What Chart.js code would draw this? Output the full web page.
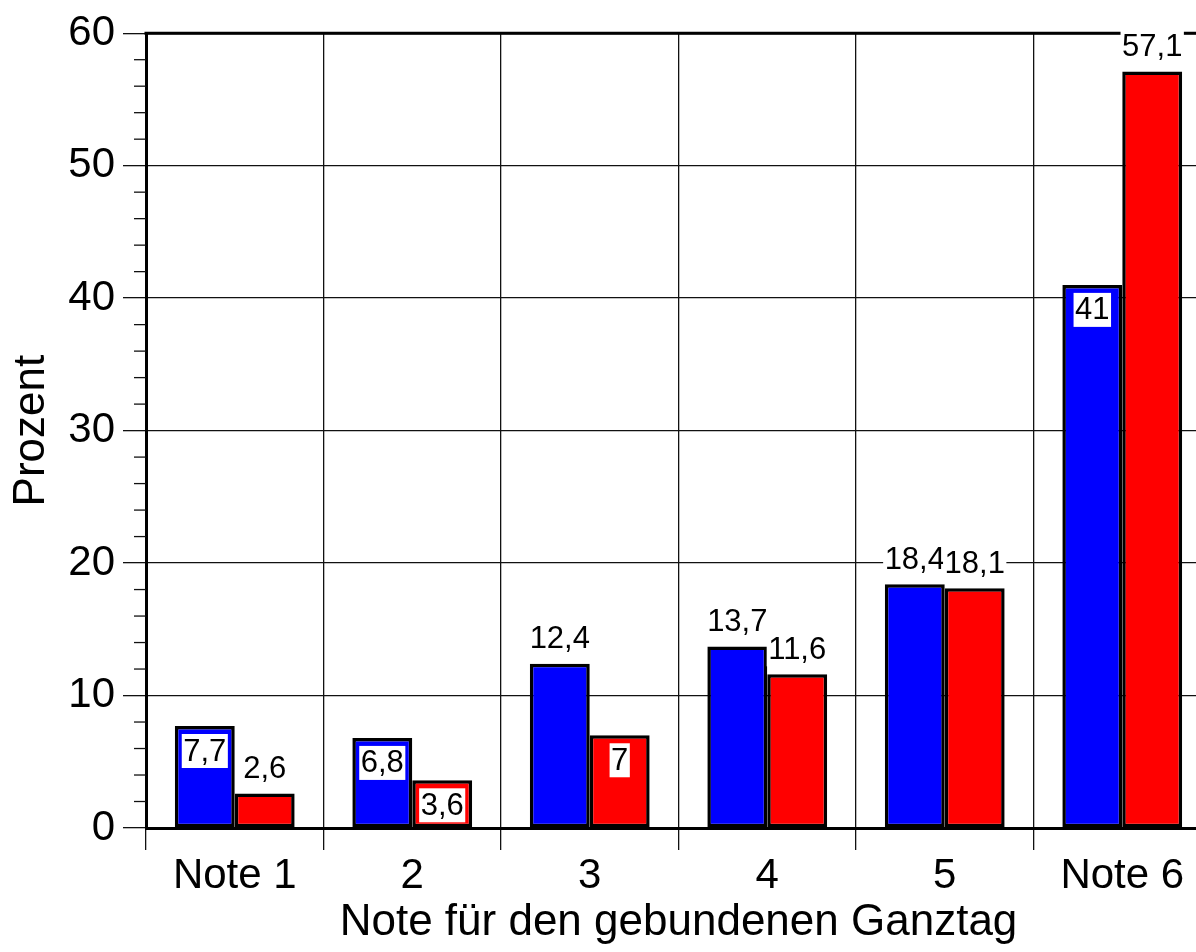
<!DOCTYPE html>
<html><head><meta charset="utf-8">
<script src="https://cdn.jsdelivr.net/npm/chart.js@4"></script>
<style>html,body{margin:0;padding:0;overflow:hidden;background:#fff}#wrap{width:1214px;height:952px;position:relative}</style>
</head><body><div id="wrap"><canvas id="c"></canvas></div>
<script>
const categories = ['Note 1', '2', '3', '4', '5', 'Note 6'];
const blueValues = [7.7, 6.8, 12.4, 13.7, 18.4, 41];
const redValues = [2.6, 3.6, 7, 11.6, 18.1, 57.1];
const yTickValues = [0, 10, 20, 30, 40, 50, 60];
const blueLabelAnchor = ['in', 'in', 'out', 'out', 'out', 'in'];
const redLabelAnchor = ['out', 'in', 'in', 'out', 'out', 'out'];

const FONT = '"Liberation Sans", Arial, Helvetica, sans-serif';

const decorPlugin = {
  id: 'decor',
  afterDatasetsDraw(chart) {
    const ctx = chart.ctx, a = chart.chartArea, ys = chart.scales.y;
    ctx.save();
    ctx.strokeStyle = '#000'; ctx.lineWidth = 3;
    ctx.beginPath();
    ctx.moveTo(a.left - 1.5, a.top); ctx.lineTo(a.right, a.top); ctx.lineTo(a.right, a.bottom);
    ctx.stroke();
    ctx.lineWidth = 1.3; ctx.strokeStyle = '#111';
    for (let v = 0; v <= 60; v += 2) {
      if (v % 10 === 0) continue;
      const py = ys.getPixelForValue(v);
      ctx.beginPath(); ctx.moveTo(a.left - 12, py); ctx.lineTo(a.left, py); ctx.stroke();
    }
    ctx.font = '31px ' + FONT;
    ctx.textAlign = 'center'; ctx.textBaseline = 'middle';
    chart.data.datasets.forEach((ds, di) => {
      const meta = chart.getDatasetMeta(di);
      meta.data.forEach((bar, i) => {
        const txt = String(ds.data[i]).replace('.', ',');
        const cy = ds.labelAnchor[i] === 'in' ? bar.y + 25 : bar.y - 25;
        const w = ctx.measureText(txt).width + 3, h = 34;
        ctx.fillStyle = '#fff';
        ctx.fillRect(bar.x - w / 2, cy - h / 2, w, h);
        ctx.fillStyle = '#000';
        ctx.fillText(txt, bar.x, cy + 1);
      });
    });
    ctx.restore();
  }
};

new Chart(document.getElementById('c'), {
  type: 'bar',
  data: {
    labels: categories,
    datasets: [
      { data: blueValues, backgroundColor: '#0000ff', borderColor: '#000', borderWidth: 3.5, borderSkipped: false, labelAnchor: blueLabelAnchor },
      { data: redValues, backgroundColor: '#ff0000', borderColor: '#000', borderWidth: 3.5, borderSkipped: false, labelAnchor: redLabelAnchor }
    ]
  },
  options: {
    responsive: true,
    maintainAspectRatio: false,
    animation: false,
    datasets: { bar: { categoryPercentage: 0.675, barPercentage: 1.0 } },
    layout: { padding: { top: 30, right: 3, left: 0, bottom: 0 } },
    plugins: { legend: { display: false }, tooltip: { enabled: false } },
    scales: {
      x: {
        grid: { offset: true, color: '#111', lineWidth: 1.3, tickLength: 22, tickColor: '#111' },
        border: { display: true, color: '#000', width: 3 },
        ticks: { font: { family: FONT, size: 42 }, color: '#000', padding: 1, maxRotation: 0, autoSkip: false },
        title: { display: true, text: 'Note für den gebundenen Ganztag', font: { family: FONT, size: 44 }, color: '#000', padding: { top: 0, bottom: 3 } },
        afterFit(s) { s.height = 124; }
      },
      y: {
        min: 0, max: 60,
        afterBuildTicks(s) { s.ticks = yTickValues.map(v => ({ value: v })); },
        grid: { color: '#111', lineWidth: 1.3, tickLength: 23, tickColor: '#111' },
        border: { display: true, color: '#000', width: 3 },
        ticks: { font: { family: FONT, size: 42 }, color: '#000', padding: 8 },
        title: { display: true, text: 'Prozent', font: { family: FONT, size: 44 }, color: '#000', padding: { top: 5, bottom: 0 } },
        afterFit(s) { s.width = 146; }
      }
    }
  },
  plugins: [decorPlugin]
});
</script>
</body></html>
